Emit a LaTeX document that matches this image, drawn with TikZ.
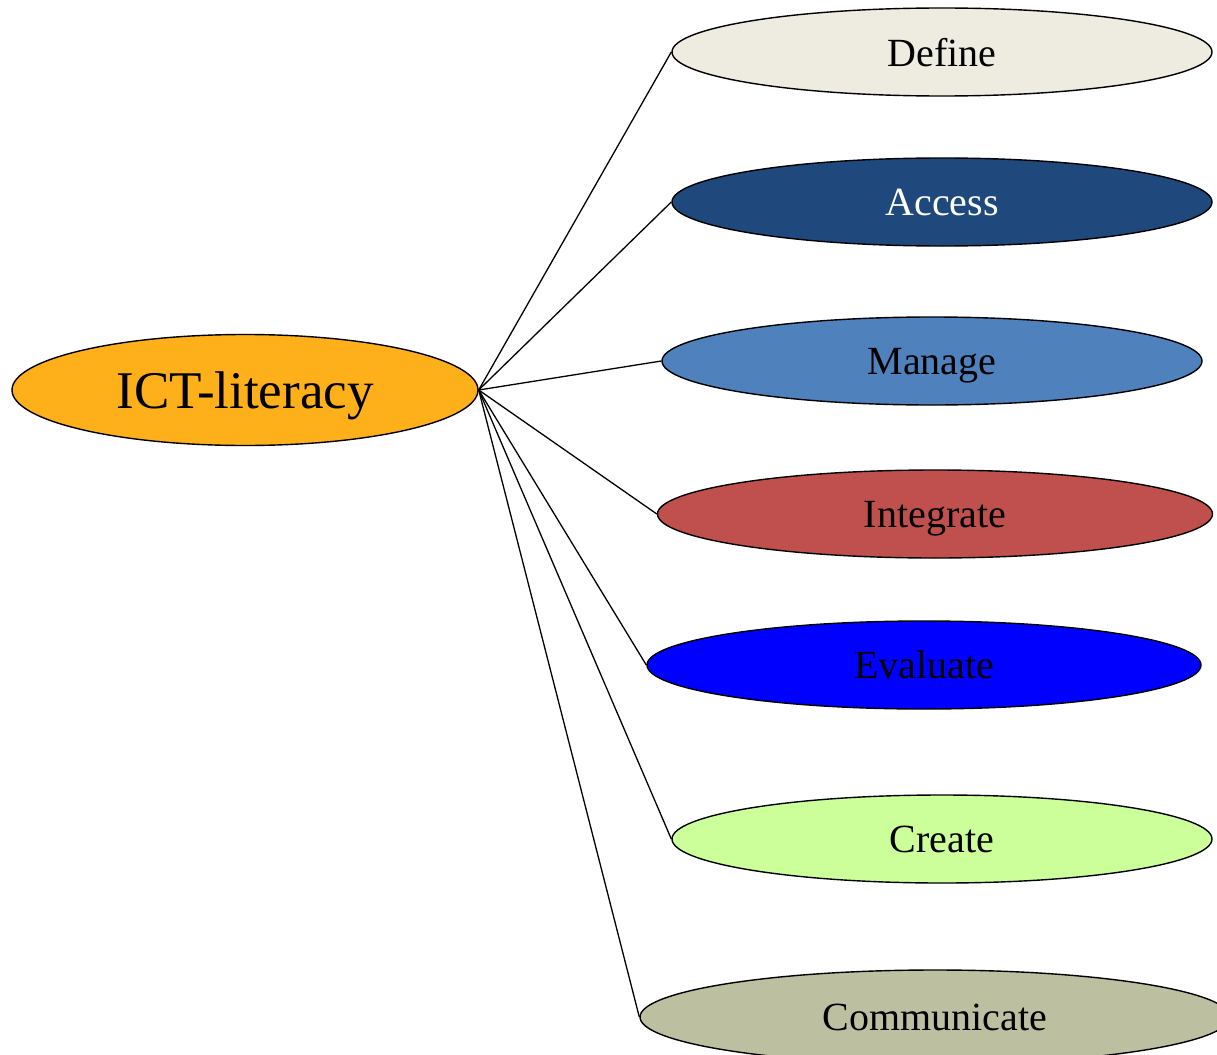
\documentclass[tikz,border=0pt]{standalone}
\usepackage{fontspec}
\setmainfont{Liberation Serif}
\usetikzlibrary{shapes.geometric}
\definecolor{ictorange}{HTML}{FDB01A}
\definecolor{cdefine}{HTML}{EEECE1}
\definecolor{caccess}{HTML}{1F497D}
\definecolor{cmanage}{HTML}{4F81BD}
\definecolor{cintegrate}{HTML}{C0504D}
\definecolor{cevaluate}{HTML}{0000FF}
\definecolor{ccreate}{HTML}{CCFF99}
\definecolor{ccommunicate}{HTML}{BDC0A0}
\tikzset{
  bubble/.style={ellipse, draw=black, line width=1.4pt, inner sep=0pt,
    text depth=0pt, font={\fontsize{40}{46}\selectfont}},
  skill/.style={bubble, minimum width=540pt, minimum height=88pt},
  link/.style={draw=black, line width=1.3pt},
}
\begin{document}
\begin{tikzpicture}[x=1pt,y=-1pt]
\useasboundingbox (0,0) rectangle (1217,1054);
\clip (0,0) rectangle (1217,1054);
\node[bubble, fill=ictorange, minimum width=466pt, minimum height=111pt,
  font={\fontsize{53}{60}\selectfont}] (ict) at (245,390) {ICT-literacy};
\node[skill, fill=cdefine] (define) at (942,52) {Define};
\node[skill, fill=caccess, text=white] (access) at (942,202) {Access};
\node[skill, fill=cmanage] (manage) at (932,361) {Manage};
\node[skill, fill=cintegrate, minimum width=555pt] (integrate) at (935,514) {Integrate};
\node[skill, fill=cevaluate, minimum width=554pt] (evaluate) at (924,665) {Evaluate};
\node[skill, fill=ccreate] (create) at (942,839) {Create};
\node[skill, fill=ccommunicate, minimum width=590pt, minimum height=94pt] (communicate) at (935,1017) {Communicate};
\foreach \n in {define,access,manage,integrate,evaluate,create,communicate}
  \draw[link] (ict.east) -- (\n.west);
\end{tikzpicture}
\end{document}
